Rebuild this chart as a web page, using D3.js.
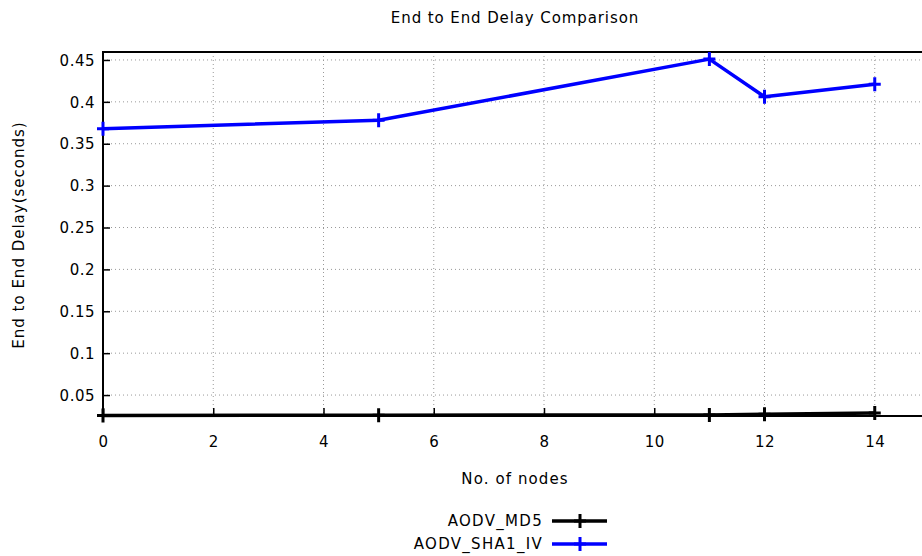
<!DOCTYPE html>
<html>
<head>
<meta charset="utf-8">
<script src="https://cdn.jsdelivr.net/npm/d3@7"></script>
<style>
  body { margin: 0; background: #fff; overflow: hidden; }
  text { font-family: "DejaVu Sans", Verdana, sans-serif; fill: #000; }
</style>
</head>
<body>
<div id="chart"></div>
<script>
// Data
const nodes = [0, 5, 11, 12, 14];
const md5Delay = [0.0255, 0.026, 0.0262, 0.027, 0.0285];
const sha1Delay = [0.368, 0.378, 0.451, 0.406, 0.421];
const xTicks = [0, 2, 4, 6, 8, 10, 12, 14];
const xGrid = [2, 4, 6, 8, 10, 12, 14, 16];
const yTicks = [0.05, 0.1, 0.15, 0.2, 0.25, 0.3, 0.35, 0.4, 0.45];
const seriesNames = ['AODV_MD5', 'AODV_SHA1_IV'];
const seriesColors = ['#000000', '#0000ff'];

const width = 922, height = 556;
const plot = { left: 103, right: 985, top: 52, bottom: 416 };

const svg = d3.select('#chart').append('svg')
    .attr('width', width)
    .attr('height', height);

const x = d3.scaleLinear().domain([0, 16]).range([plot.left, plot.right]);
const y = d3.scaleLinear().domain([0.025, 0.4595]).range([plot.bottom, plot.top]);

// Grid lines (dotted)
svg.append('g').selectAll('line')
    .data(yTicks).join('line')
    .attr('x1', plot.left).attr('x2', plot.right)
    .attr('y1', d => y(d)).attr('y2', d => y(d))
    .attr('stroke', '#999').attr('stroke-width', 1)
    .attr('stroke-dasharray', '1,3');
svg.append('g').selectAll('line')
    .data(xGrid).join('line')
    .attr('x1', d => x(d)).attr('x2', d => x(d))
    .attr('y1', plot.top).attr('y2', plot.bottom)
    .attr('stroke', '#999').attr('stroke-width', 1)
    .attr('stroke-dasharray', '1,3');

// Axes (ticks pointing into the plot)
const yAxis = d3.axisLeft(y).tickValues(yTicks).tickSize(-7).tickPadding(8)
    .tickFormat(d => d3.format('.2~f')(d));
const gy = svg.append('g').attr('transform', `translate(${plot.left},0)`).call(yAxis);
gy.select('.domain').remove();
gy.selectAll('.tick line').attr('stroke', '#000').attr('stroke-width', 1.5);
gy.selectAll('.tick text').style('font-size', '15px').style('letter-spacing', '0.5px').attr('dy', '0.35em');

const xAxis = d3.axisBottom(x).tickValues(xTicks).tickSize(-8).tickPadding(20);
const gx = svg.append('g').attr('transform', `translate(0,${plot.bottom})`).call(xAxis);
gx.select('.domain').remove();
gx.selectAll('.tick line').attr('stroke', '#000').attr('stroke-width', 1.5);
gx.selectAll('.tick text').style('font-size', '15px').style('letter-spacing', '0.5px');

// Plot border
svg.append('rect')
    .attr('x', plot.left).attr('y', plot.top)
    .attr('width', plot.right - plot.left).attr('height', plot.bottom - plot.top)
    .attr('fill', 'none').attr('stroke', '#000').attr('stroke-width', 2);

// Series
const series = [md5Delay, sha1Delay];
const line = d3.line().x((d, i) => x(nodes[i])).y(d => y(d));

function plusMark(g, cx, cy, color) {
    g.append('path')
        .attr('d', `M${cx - 6},${cy}H${cx + 6}M${cx},${cy - 7}V${cy + 7}`)
        .attr('stroke', color).attr('stroke-width', 3).attr('fill', 'none');
}

series.forEach((vals, s) => {
    const g = svg.append('g');
    g.append('path')
        .datum(vals)
        .attr('d', line)
        .attr('fill', 'none')
        .attr('stroke', seriesColors[s])
        .attr('stroke-width', 3.5)
        .attr('stroke-linejoin', 'round');
    vals.forEach((v, i) => plusMark(g, x(nodes[i]), y(v), seriesColors[s]));
});

// Title and axis labels
svg.append('text')
    .attr('x', 515).attr('y', 23)
    .attr('text-anchor', 'middle')
    .style('font-size', '15px')
    .style('letter-spacing', '0.9px')
    .text('End to End Delay Comparison');

svg.append('text')
    .attr('x', 515).attr('y', 484)
    .attr('text-anchor', 'middle')
    .style('font-size', '15px')
    .style('letter-spacing', '1.1px')
    .text('No. of nodes');

svg.append('text')
    .attr('transform', 'rotate(-90)')
    .attr('x', -235).attr('y', 24)
    .attr('text-anchor', 'middle')
    .style('font-size', '15px')
    .style('letter-spacing', '1px')
    .text('End to End Delay(seconds)');

// Legend
const legend = svg.append('g');
seriesNames.forEach((name, i) => {
    const ly = 521 + i * 23;
    legend.append('text')
        .attr('x', 543).attr('y', ly)
        .attr('dy', '0.35em')
        .attr('text-anchor', 'end')
        .style('font-size', '15px')
        .style('letter-spacing', '1.3px')
        .text(name);
    legend.append('line')
        .attr('x1', 552).attr('x2', 607)
        .attr('y1', ly).attr('y2', ly)
        .attr('stroke', seriesColors[i]).attr('stroke-width', 3.5);
    plusMark(legend, 580, ly, seriesColors[i]);
});
</script>
</body>
</html>
